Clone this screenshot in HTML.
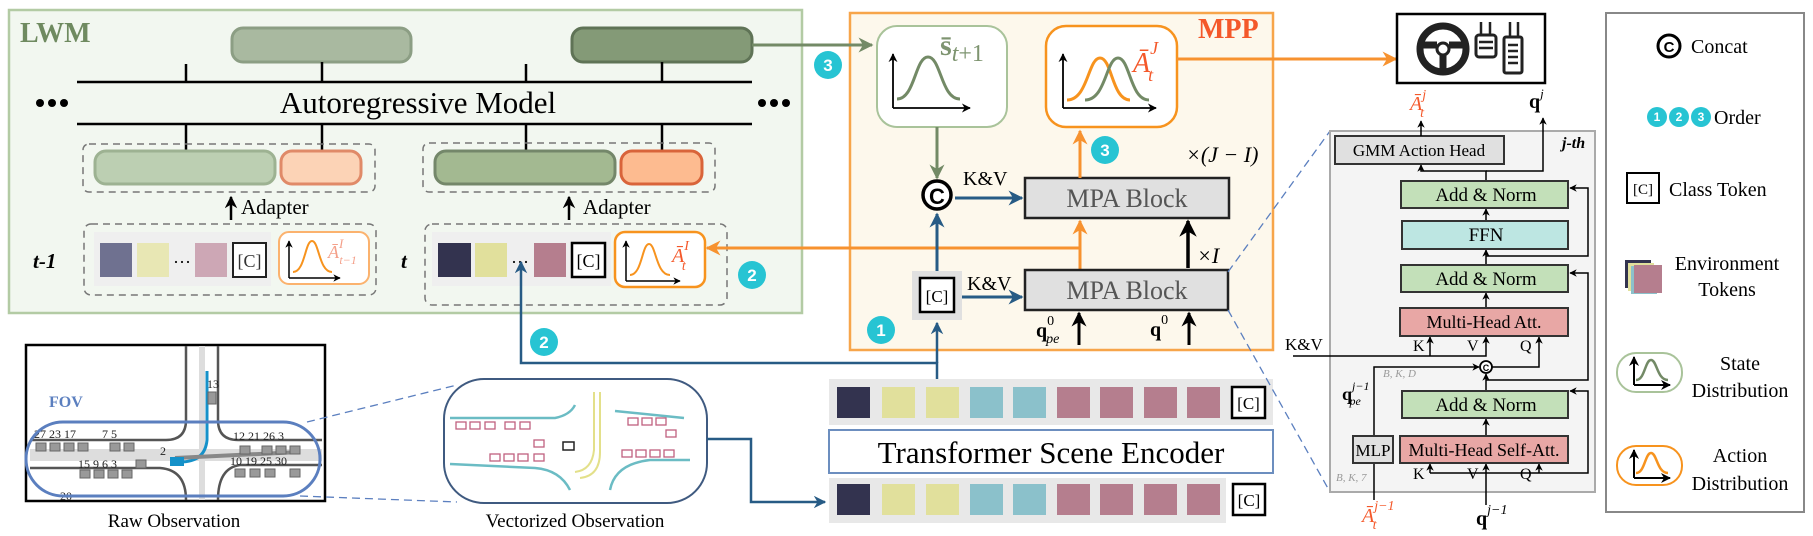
<!DOCTYPE html>
<html><head><meta charset="utf-8"><style>
html,body{margin:0;padding:0;background:#fff;}
svg{display:block;font-family:"Liberation Serif",serif;}
</style></head><body>
<svg width="1813" height="536" viewBox="0 0 1813 536" xmlns="http://www.w3.org/2000/svg">
<defs>
<marker id="ab" viewBox="0 0 10 10" refX="9" refY="5" markerWidth="5" markerHeight="5" orient="auto"><path d="M0,0 L10,5 L0,10 L3,5z" fill="#000"/></marker>
<marker id="ablue" viewBox="0 0 10 10" refX="9" refY="5" markerWidth="5" markerHeight="5" orient="auto"><path d="M0,0 L10,5 L0,10 L3,5z" fill="#275b85"/></marker>
<marker id="aor" viewBox="0 0 10 10" refX="9" refY="5" markerWidth="5" markerHeight="5" orient="auto"><path d="M0,0 L10,5 L0,10 L3,5z" fill="#f7922f"/></marker>
<marker id="agr" viewBox="0 0 10 10" refX="9" refY="5" markerWidth="5" markerHeight="5" orient="auto"><path d="M0,0 L10,5 L0,10 L3,5z" fill="#738a66"/></marker>
</defs>

<!-- LWM -->
<rect x="9" y="10" width="793" height="303" fill="#f2f7f0" stroke="#b3cba4" stroke-width="2.5"/>
<text x="20" y="42" font-size="28" font-weight="bold" fill="#6f8a60">LWM</text>
<rect x="232" y="28" width="179" height="34" rx="11" fill="#a9b9a0" stroke="#8c9e84" stroke-width="3"/>
<rect x="572" y="28" width="180" height="34" rx="11" fill="#849a77" stroke="#5f7356" stroke-width="3"/>
<g stroke="#000" stroke-width="2.5">
<line x1="77" y1="82" x2="752" y2="82"/><line x1="77" y1="124" x2="752" y2="124"/>
<line x1="186" y1="64" x2="186" y2="82"/><line x1="322" y1="62" x2="322" y2="82"/>
<line x1="526" y1="64" x2="526" y2="82"/><line x1="662" y1="62" x2="662" y2="82"/>
<line x1="186" y1="124" x2="186" y2="151"/><line x1="322" y1="124" x2="322" y2="151"/>
<line x1="526" y1="124" x2="526" y2="151"/><line x1="662" y1="124" x2="662" y2="151"/>
</g>
<text x="418" y="113" font-size="31" text-anchor="middle">Autoregressive Model</text>
<g fill="#000"><circle cx="40" cy="103" r="4"/><circle cx="52" cy="103" r="4"/><circle cx="64" cy="103" r="4"/>
<circle cx="762" cy="103" r="4"/><circle cx="774" cy="103" r="4"/><circle cx="786" cy="103" r="4"/></g>
<rect x="83" y="144" width="292" height="48" rx="6" fill="none" stroke="#777" stroke-width="1.5" stroke-dasharray="7,5"/>
<rect x="95" y="151" width="180" height="33" rx="11" fill="#bccfb2" stroke="#9db292" stroke-width="3"/>
<rect x="281" y="151" width="80" height="33" rx="11" fill="#fcd3b6" stroke="#e08a68" stroke-width="3"/>
<rect x="423" y="143" width="292" height="49" rx="6" fill="none" stroke="#777" stroke-width="1.5" stroke-dasharray="7,5"/>
<rect x="435" y="151" width="180" height="33" rx="11" fill="#a3b991" stroke="#74876a" stroke-width="3"/>
<rect x="621" y="151" width="81" height="33" rx="11" fill="#fdbb90" stroke="#d9643a" stroke-width="3"/>
<line x1="231" y1="220" x2="231" y2="197" stroke="#000" stroke-width="2.5" marker-end="url(#ab)"/>
<text x="241" y="214" font-size="21">Adapter</text>
<line x1="569" y1="220" x2="569" y2="197" stroke="#000" stroke-width="2.5" marker-end="url(#ab)"/>
<text x="583" y="214" font-size="21">Adapter</text>

<text x="33" y="268" font-size="21" font-style="italic" font-weight="bold">t-1</text>
<rect x="84" y="224" width="292" height="71" rx="7" fill="none" stroke="#777" stroke-width="1.5" stroke-dasharray="7,5"/>
<rect x="94" y="232" width="177" height="54" fill="#efefef"/>
<rect x="100" y="243" width="32" height="34" fill="#6f7190"/>
<rect x="137" y="243" width="32" height="34" fill="#e8e7b4"/>
<text x="182" y="268" font-size="18" text-anchor="middle">···</text>
<rect x="195" y="243" width="32" height="34" fill="#cda7b5"/>
<rect x="233" y="243" width="33" height="34" fill="#fff" stroke="#222" stroke-width="2"/>
<text x="249.5" y="267" font-size="18" text-anchor="middle" fill="#333">[C]</text>
<rect x="279" y="232" width="90" height="52" rx="10" fill="#fff" stroke="#fbb26e" stroke-width="2"/>
<g stroke="#000" stroke-width="1.5" fill="none"><polyline points="289,278 340,278" marker-end="url(#ab)"/><line x1="289" y1="278" x2="289" y2="241" marker-end="url(#ab)"/></g>
<path d="M293,272 C305,272 305,241 312,241 C319,241 319,272 332,272" fill="none" stroke="#f7931e" stroke-width="2"/>
<text x="328" y="258" font-size="18" font-style="italic" fill="#f4a08a">Ā<tspan dy="-10" font-size="13">I</tspan><tspan dx="-4" dy="16" font-size="12">t−1</tspan></text>

<text x="401" y="268" font-size="21" font-style="italic" font-weight="bold">t</text>
<rect x="425" y="224" width="302" height="81" rx="7" fill="none" stroke="#777" stroke-width="1.5" stroke-dasharray="7,5"/>
<rect x="432" y="232" width="179" height="54" fill="#efefef"/>
<rect x="438" y="243" width="33" height="34" fill="#33334f"/>
<rect x="475" y="243" width="32" height="34" fill="#e1e09c"/>
<text x="520" y="268" font-size="18" text-anchor="middle">···</text>
<rect x="534" y="243" width="32" height="34" fill="#b57e8e"/>
<rect x="572" y="243" width="33" height="34" fill="#fff" stroke="#000" stroke-width="2.5"/>
<text x="588.5" y="267" font-size="18" text-anchor="middle">[C]</text>
<rect x="615" y="232" width="90" height="55" rx="10" fill="#fff" stroke="#f7931e" stroke-width="2.5"/>
<g stroke="#000" stroke-width="1.5" fill="none"><polyline points="626,281 680,281" marker-end="url(#ab)"/><line x1="626" y1="281" x2="626" y2="241" marker-end="url(#ab)"/></g>
<path d="M630,275 C642,275 642,244 649,244 C656,244 656,275 670,275" fill="none" stroke="#f7931e" stroke-width="2"/>
<text x="672" y="262" font-size="20" font-style="italic" fill="#f4582a">Ā<tspan dy="-12" font-size="14">I</tspan><tspan dx="-7" dy="20" font-size="14">t</tspan></text>

<!-- MPP -->
<rect x="850" y="13" width="423" height="337" fill="#fdf8ec" stroke="#f7a54a" stroke-width="2.5"/>
<text x="1198" y="38" font-size="28" font-weight="bold" fill="#f4582a">MPP</text>
<line x1="752" y1="45" x2="872" y2="45" stroke="#738a66" stroke-width="3" marker-end="url(#agr)"/>
<circle cx="828" cy="65" r="14" fill="#27c4d3"/><text x="828" y="71" font-size="17" font-weight="bold" fill="#fff" text-anchor="middle" font-family="Liberation Sans,sans-serif">3</text>
<rect x="877" y="26" width="130" height="101" rx="20" fill="#fff" stroke="#a9c39a" stroke-width="2"/>
<g stroke="#000" stroke-width="1.8" fill="none"><line x1="893" y1="108" x2="970" y2="108" marker-end="url(#ab)"/><line x1="893" y1="108" x2="893" y2="54" marker-end="url(#ab)"/></g>
<path d="M897,99 C915,99 915,57 928,57 C941,57 941,99 960,99" fill="none" stroke="#738a66" stroke-width="3"/>
<text x="940" y="55" font-size="30" fill="#7e9470"><tspan font-weight="bold">s̄</tspan><tspan dy="6" font-size="24" font-style="italic">t</tspan><tspan font-size="24">+1</tspan></text>
<rect x="1046" y="26" width="131" height="101" rx="20" fill="#fff" stroke="#f7931e" stroke-width="2.5"/>
<g stroke="#000" stroke-width="1.8" fill="none"><line x1="1063" y1="108" x2="1156" y2="108" marker-end="url(#ab)"/><line x1="1063" y1="108" x2="1063" y2="54" marker-end="url(#ab)"/></g>
<path d="M1067,100 C1088,100 1088,58 1100,58 C1112,58 1112,100 1130,100" fill="none" stroke="#f7931e" stroke-width="3"/>
<path d="M1085,100 C1106,100 1106,58 1118,58 C1130,58 1130,100 1149,100" fill="none" stroke="#738a66" stroke-width="3"/>
<text x="1133" y="72" font-size="28" font-style="italic" fill="#f4582a">Ā<tspan dy="-18" font-size="18">J</tspan><tspan dx="-10" dy="27" font-size="18">t</tspan></text>
<line x1="1177" y1="59" x2="1396" y2="59" stroke="#f7922f" stroke-width="3" marker-end="url(#aor)"/>

<line x1="937" y1="127" x2="937" y2="178" stroke="#738a66" stroke-width="3" marker-end="url(#agr)"/>
<circle cx="937" cy="195" r="14" fill="#fff" stroke="#000" stroke-width="3.5"/>
<text x="937" y="204" font-size="22" font-weight="bold" text-anchor="middle" font-family="Liberation Sans,sans-serif">C</text>
<text x="963" y="185" font-size="20">K&amp;V</text>
<line x1="955" y1="198" x2="1022" y2="198" stroke="#275b85" stroke-width="3" marker-end="url(#ablue)"/>
<rect x="1025" y="178" width="204" height="40" fill="#e0e0e0" stroke="#222" stroke-width="2.5"/>
<text x="1127" y="207" font-size="26" text-anchor="middle" fill="#555">MPA Block</text>
<text x="1186" y="162" font-size="22" font-style="italic">×(J − I)</text>
<line x1="1080" y1="178" x2="1080" y2="131" stroke="#f7922f" stroke-width="3" marker-end="url(#aor)"/>
<circle cx="1105" cy="150" r="14" fill="#27c4d3"/><text x="1105" y="156" font-size="17" font-weight="bold" fill="#fff" text-anchor="middle" font-family="Liberation Sans,sans-serif">3</text>
<line x1="1080" y1="270" x2="1080" y2="221" stroke="#f7922f" stroke-width="3" marker-end="url(#aor)"/>
<line x1="1080" y1="248" x2="707" y2="248" stroke="#f7922f" stroke-width="3" marker-end="url(#aor)"/>
<circle cx="752" cy="275" r="14" fill="#27c4d3"/><text x="752" y="281" font-size="17" font-weight="bold" fill="#fff" text-anchor="middle" font-family="Liberation Sans,sans-serif">2</text>
<rect x="1025" y="270" width="203" height="40" fill="#e0e0e0" stroke="#222" stroke-width="2.5"/>
<text x="1127" y="299" font-size="26" text-anchor="middle" fill="#555">MPA Block</text>
<line x1="1188" y1="268" x2="1188" y2="221" stroke="#000" stroke-width="3.5" marker-end="url(#ab)"/>
<text x="1197" y="263" font-size="22" font-style="italic">×I</text>
<rect x="912" y="271" width="50" height="49" fill="#e0e0e0"/>
<rect x="920" y="278" width="34" height="34" fill="#fff" stroke="#000" stroke-width="2.5"/>
<text x="937" y="302" font-size="17" text-anchor="middle">[C]</text>
<line x1="937" y1="271" x2="937" y2="214" stroke="#275b85" stroke-width="3" marker-end="url(#ablue)"/>
<text x="967" y="290" font-size="20">K&amp;V</text>
<line x1="962" y1="297" x2="1022" y2="297" stroke="#275b85" stroke-width="3" marker-end="url(#ablue)"/>
<text x="1036" y="337" font-size="20" font-weight="bold">q<tspan dy="-12" font-size="14" font-weight="normal">0</tspan><tspan dx="-8" dy="18" font-size="14" font-style="italic" font-weight="normal">pe</tspan></text>
<line x1="1079" y1="345" x2="1079" y2="313" stroke="#000" stroke-width="3" marker-end="url(#ab)"/>
<text x="1150" y="336" font-size="20" font-weight="bold">q<tspan dy="-12" font-size="14" font-weight="normal">0</tspan></text>
<line x1="1189" y1="345" x2="1189" y2="313" stroke="#000" stroke-width="3" marker-end="url(#ab)"/>
<circle cx="881" cy="330" r="14" fill="#27c4d3"/><text x="881" y="336" font-size="17" font-weight="bold" fill="#fff" text-anchor="middle" font-family="Liberation Sans,sans-serif">1</text>

<!-- blue connectors -->
<polyline points="937,379 937,363 521,363 521,262" fill="none" stroke="#275b85" stroke-width="2.5" marker-end="url(#ablue)"/>
<line x1="937" y1="363" x2="937" y2="323" stroke="#275b85" stroke-width="2.5" marker-end="url(#ablue)"/>
<circle cx="544" cy="342" r="14" fill="#27c4d3"/><text x="544" y="348" font-size="17" font-weight="bold" fill="#fff" text-anchor="middle" font-family="Liberation Sans,sans-serif">2</text>

<!-- raw observation -->
<rect x="26" y="345" width="299" height="156" fill="#fff" stroke="#000" stroke-width="2.5"/>
<g fill="none" stroke="#555" stroke-width="2.5">
<path d="M186,346 L186,420 Q186,440 166,440 L30,440"/><path d="M218,346 L218,420 Q218,440 238,440 L322,440"/>
<path d="M30,468 L160,468 Q186,470 186,500"/><path d="M322,465 L240,465 Q218,468 218,500"/>
</g>
<g fill="none" stroke="#ddd" stroke-width="6"><line x1="202" y1="346" x2="202" y2="500"/><line x1="30" y1="452" x2="322" y2="452"/><line x1="30" y1="458" x2="322" y2="458"/></g>
<path d="M207,371 L207,440 Q205,462 180,462" fill="none" stroke="#1591c9" stroke-width="3"/>
<path d="M175,458 L300,452" stroke="#888" stroke-width="4"/>
<rect x="170" y="457" width="14" height="9" fill="#1591c9"/>
<g fill="#999" stroke="#666" stroke-width="1"><rect x="36" y="443" width="10" height="8"/><rect x="50" y="443" width="10" height="8"/><rect x="64" y="443" width="10" height="8"/><rect x="78" y="443" width="10" height="8"/><rect x="110" y="443" width="10" height="8"/><rect x="124" y="443" width="10" height="8"/>
<rect x="240" y="446" width="10" height="8"/><rect x="262" y="446" width="10" height="8"/><rect x="276" y="446" width="10" height="8"/><rect x="290" y="446" width="10" height="8"/>
<rect x="80" y="470" width="10" height="8"/><rect x="94" y="470" width="10" height="8"/><rect x="108" y="470" width="10" height="8"/><rect x="122" y="470" width="10" height="8"/><rect x="136" y="460" width="10" height="8"/>
<rect x="235" y="469" width="10" height="8"/><rect x="250" y="469" width="10" height="8"/><rect x="265" y="469" width="10" height="8"/><rect x="290" y="469" width="10" height="8"/><rect x="208" y="392" width="8" height="12"/></g>
<g font-size="12" fill="#222"><text x="34" y="438">27 23 17</text><text x="102" y="438">7 5</text><text x="233" y="440">12 21 26 3</text><text x="78" y="468">15 9 6 3</text><text x="160" y="455">2</text><text x="230" y="465">10 19 25 30</text><text x="207" y="388">13</text><text x="60" y="500">20</text></g>
<text x="49" y="407" font-size="16" font-weight="bold" fill="#5b7fbf">FOV</text>
<rect x="26" y="422" width="294" height="74" rx="37" fill="none" stroke="#5b7fbf" stroke-width="3"/>
<text x="174" y="527" font-size="19" text-anchor="middle">Raw Observation</text>
<g stroke="#5b7fbf" stroke-width="1.3" stroke-dasharray="8,5"><line x1="307" y1="422" x2="457" y2="385"/><line x1="300" y1="496" x2="457" y2="502"/></g>

<!-- vectorized -->
<rect x="444" y="379" width="263" height="124" rx="40" fill="#fff" stroke="#3f5a80" stroke-width="2"/>
<g fill="none" stroke="#6bbcc4" stroke-width="2.5">
<path d="M450,418 L555,418 Q570,415 575,405"/><path d="M615,411 L684,418"/><path d="M450,464 L535,468 Q560,470 570,490"/><path d="M610,490 Q615,464 650,460 L690,460"/></g>
<path d="M594,392 L594,450 Q592,470 575,472 M600,392 L600,452 Q600,476 580,478" fill="none" stroke="#e3e08a" stroke-width="2"/>
<g fill="none" stroke="#c0607f" stroke-width="1.3"><rect x="456" y="422" width="10" height="7"/><rect x="470" y="422" width="10" height="7"/><rect x="485" y="422" width="10" height="7"/><rect x="505" y="422" width="10" height="7"/><rect x="520" y="422" width="10" height="7"/>
<rect x="534" y="440" width="10" height="7"/><rect x="490" y="454" width="10" height="7"/><rect x="504" y="454" width="10" height="7"/><rect x="518" y="454" width="10" height="7"/><rect x="534" y="454" width="10" height="7"/>
<rect x="628" y="418" width="10" height="7"/><rect x="642" y="418" width="10" height="7"/><rect x="656" y="418" width="10" height="7"/><rect x="666" y="430" width="10" height="7"/><rect x="622" y="450" width="10" height="7"/><rect x="636" y="450" width="10" height="7"/><rect x="650" y="450" width="10" height="7"/><rect x="664" y="450" width="10" height="7"/></g>
<rect x="563" y="442" width="11" height="8" fill="none" stroke="#222" stroke-width="1.5"/>
<text x="575" y="527" font-size="19" text-anchor="middle">Vectorized Observation</text>
<polyline points="707,439 751,439 751,502 825,502" fill="none" stroke="#275b85" stroke-width="2.5" marker-end="url(#ablue)"/>

<!-- token rows & encoder -->
<rect x="829" y="379" width="444" height="46" fill="#e8e8e8"/>
<g><rect x="837" y="387" width="33" height="31" fill="#33334f"/><rect x="882" y="387" width="33" height="31" fill="#e1e09c"/><rect x="926" y="387" width="33" height="31" fill="#e1e09c"/><rect x="970" y="387" width="33" height="31" fill="#8bc1cb"/><rect x="1013" y="387" width="33" height="31" fill="#8bc1cb"/><rect x="1057" y="387" width="33" height="31" fill="#b57e8e"/><rect x="1100" y="387" width="33" height="31" fill="#b57e8e"/><rect x="1144" y="387" width="33" height="31" fill="#b57e8e"/><rect x="1187" y="387" width="33" height="31" fill="#b57e8e"/></g>
<rect x="1232" y="387" width="33" height="31" fill="#fff" stroke="#000" stroke-width="2.5"/><text x="1248.5" y="409" font-size="17" text-anchor="middle">[C]</text>
<rect x="829" y="430" width="444" height="43" fill="#fff" stroke="#6c8ebf" stroke-width="2"/>
<text x="1051" y="463" font-size="31" text-anchor="middle">Transformer Scene Encoder</text>
<rect x="829" y="478" width="397" height="45" fill="#e8e8e8"/>
<g><rect x="837" y="484" width="33" height="31" fill="#33334f"/><rect x="882" y="484" width="33" height="31" fill="#e1e09c"/><rect x="926" y="484" width="33" height="31" fill="#e1e09c"/><rect x="970" y="484" width="33" height="31" fill="#8bc1cb"/><rect x="1013" y="484" width="33" height="31" fill="#8bc1cb"/><rect x="1057" y="484" width="33" height="31" fill="#b57e8e"/><rect x="1100" y="484" width="33" height="31" fill="#b57e8e"/><rect x="1144" y="484" width="33" height="31" fill="#b57e8e"/><rect x="1187" y="484" width="33" height="31" fill="#b57e8e"/></g>
<rect x="1233" y="484" width="32" height="31" fill="#fff" stroke="#000" stroke-width="2.5"/><text x="1249" y="506" font-size="17" text-anchor="middle">[C]</text>

<!-- icon -->
<rect x="1397" y="14" width="148" height="69" fill="#fff" stroke="#000" stroke-width="2.5"/>
<circle cx="1443" cy="49" r="23" fill="none" stroke="#222" stroke-width="7"/>
<circle cx="1443" cy="49" r="6" fill="#fff" stroke="#222" stroke-width="3"/>
<path d="M1421,45 L1437,45 M1465,45 L1449,45 M1443,55 L1443,71" stroke="#222" stroke-width="7"/>
<rect x="1476" y="35" width="20" height="22" rx="3" fill="#fff" stroke="#222" stroke-width="3"/>
<path d="M1481,22 L1481,35 M1490,22 L1490,35 M1479,42 L1493,42 M1479,48 L1493,48" stroke="#222" stroke-width="2.5"/>
<rect x="1504" y="37" width="18" height="36" rx="2" fill="#fff" stroke="#222" stroke-width="3"/>
<path d="M1510,22 L1510,37 M1518,22 L1518,37 M1508,45 L1518,45 M1508,51 L1518,51 M1508,57 L1518,57 M1508,63 L1518,63" stroke="#222" stroke-width="2.5"/>

<!-- j-th -->
<g stroke="#5b7fbf" stroke-width="1.3" stroke-dasharray="8,5"><line x1="1228" y1="272" x2="1330" y2="131"/><line x1="1228" y1="310" x2="1330" y2="492"/></g>
<rect x="1330" y="131" width="265" height="361" fill="#f4f4f4" stroke="#aaa" stroke-width="2"/>
<text x="1562" y="148" font-size="16" font-style="italic" font-weight="bold">j-th</text>
<rect x="1335" y="136" width="169" height="28" fill="#e0e0e0" stroke="#333" stroke-width="2"/>
<text x="1419" y="156" font-size="17" text-anchor="middle">GMM Action Head</text>
<text x="1410" y="110" font-size="20" font-style="italic" fill="#f4582a">Ā<tspan dy="-11" font-size="14">j</tspan><tspan dx="-6" dy="18" font-size="14">t</tspan></text>
<text x="1529" y="108" font-size="20" font-weight="bold">q<tspan dy="-10" font-size="13" font-weight="normal" font-style="italic">j</tspan></text>
<g stroke="#000" stroke-width="1.5" fill="none">
<line x1="1421" y1="136" x2="1421" y2="121" marker-end="url(#ab)"/>
<polyline points="1486,181 1486,171 1421,171 1421,165" marker-end="url(#ab)"/>
<polyline points="1486,171 1543,171 1543,118" marker-end="url(#ab)"/>
<line x1="1486" y1="221" x2="1486" y2="209" marker-end="url(#ab)"/>
<line x1="1486" y1="265" x2="1486" y2="250" marker-end="url(#ab)"/>
<polyline points="1486,256 1588,256 1588,188 1570,188" marker-end="url(#ab)"/>
<line x1="1486" y1="308" x2="1486" y2="293" marker-end="url(#ab)"/>
<polyline points="1486,380 1588,380 1588,273 1570,273" marker-end="url(#ab)"/>
<polyline points="1293,356 1486,356 1486,337" marker-end="url(#ab)"/>
<line x1="1430" y1="356" x2="1430" y2="337" marker-end="url(#ab)"/>
<polyline points="1374,436 1374,367 1479,367" marker-end="url(#ab)"/>
<polyline points="1492,367 1539,367 1539,337" marker-end="url(#ab)"/>
<line x1="1486" y1="391" x2="1486" y2="374" marker-end="url(#ab)"/>
<line x1="1486" y1="436" x2="1486" y2="419" marker-end="url(#ab)"/>
<polyline points="1430,473 1588,473 1588,391 1570,391" marker-end="url(#ab)"/>
<line x1="1430" y1="473" x2="1430" y2="464" marker-end="url(#ab)"/>
<line x1="1539" y1="473" x2="1539" y2="464" marker-end="url(#ab)"/>
<line x1="1486" y1="505" x2="1486" y2="464" marker-end="url(#ab)"/>
<line x1="1374" y1="500" x2="1374" y2="463"/>
</g>
<circle cx="1486" cy="367" r="6" fill="#fff" stroke="#000" stroke-width="1.8"/><text x="1486" y="371" font-size="9" font-weight="bold" text-anchor="middle" font-family="Liberation Sans,sans-serif">C</text>
<rect x="1401" y="181" width="167" height="27" fill="#c3e0b9" stroke="#333" stroke-width="2"/><text x="1486" y="201" font-size="19" text-anchor="middle">Add &amp; Norm</text>
<rect x="1402" y="221" width="166" height="28" fill="#bde6e2" stroke="#333" stroke-width="2"/><text x="1486" y="241" font-size="19" text-anchor="middle">FFN</text>
<rect x="1401" y="265" width="167" height="27" fill="#c3e0b9" stroke="#333" stroke-width="2"/><text x="1486" y="285" font-size="19" text-anchor="middle">Add &amp; Norm</text>
<rect x="1400" y="308" width="168" height="28" fill="#e8a7a5" stroke="#333" stroke-width="2"/><text x="1484" y="328" font-size="18" text-anchor="middle">Multi-Head Att.</text>
<rect x="1402" y="391" width="166" height="27" fill="#c3e0b9" stroke="#333" stroke-width="2"/><text x="1486" y="411" font-size="19" text-anchor="middle">Add &amp; Norm</text>
<rect x="1400" y="436" width="168" height="27" fill="#e8a7a5" stroke="#333" stroke-width="2"/><text x="1484" y="456" font-size="18" text-anchor="middle">Multi-Head Self-Att.</text>
<rect x="1353" y="436" width="40" height="27" fill="#e0e0e0" stroke="#333" stroke-width="2"/><text x="1373" y="456" font-size="17" text-anchor="middle">MLP</text>
<g font-size="16"><text x="1413" y="351">K</text><text x="1467" y="351">V</text><text x="1520" y="351">Q</text>
<text x="1413" y="479">K</text><text x="1467" y="479">V</text><text x="1520" y="479">Q</text>
<text x="1285" y="350" font-size="17">K&amp;V</text></g>
<text x="1383" y="377" font-size="11" font-style="italic" fill="#999">B, K, D</text>
<text x="1336" y="481" font-size="11" font-style="italic" fill="#999">B, K, 7</text>
<text x="1342" y="400" font-size="18" font-weight="bold">q<tspan dy="-10" font-size="12" font-weight="normal" font-style="italic">j−1</tspan><tspan dx="-20" dy="15" font-size="12" font-weight="normal" font-style="italic">pe</tspan></text>
<text x="1362" y="522" font-size="20" font-style="italic" fill="#f4582a">Ā<tspan dy="-12" font-size="14">j−1</tspan><tspan dx="-22" dy="19" font-size="14">t</tspan></text>
<text x="1476" y="525" font-size="20" font-weight="bold">q<tspan dy="-11" font-size="14" font-weight="normal" font-style="italic">j−1</tspan></text>

<!-- legend -->
<rect x="1606" y="13" width="198" height="499" fill="#fff" stroke="#888" stroke-width="2"/>
<circle cx="1669" cy="46" r="11" fill="#fff" stroke="#000" stroke-width="3"/><text x="1669" y="52" font-size="15" font-weight="bold" text-anchor="middle" font-family="Liberation Sans,sans-serif">C</text>
<text x="1691" y="53" font-size="20">Concat</text>
<g font-family="Liberation Sans,sans-serif" font-size="12" font-weight="bold" fill="#fff" text-anchor="middle">
<circle cx="1657" cy="117" r="10" fill="#27c4d3"/><text x="1657" y="121">1</text>
<circle cx="1679" cy="117" r="10" fill="#27c4d3"/><text x="1679" y="121">2</text>
<circle cx="1701" cy="117" r="10" fill="#27c4d3"/><text x="1701" y="121">3</text></g>
<text x="1714" y="124" font-size="20">Order</text>
<rect x="1627" y="173" width="32" height="30" fill="#fff" stroke="#000" stroke-width="2"/><text x="1643" y="194" font-size="15" text-anchor="middle">[C]</text>
<text x="1669" y="196" font-size="20">Class Token</text>
<rect x="1625" y="260" width="26" height="28" fill="#33334f"/><rect x="1628" y="263" width="26" height="28" fill="#e1e09c"/><rect x="1631" y="266" width="26" height="28" fill="#8bc1cb"/><rect x="1634" y="265" width="28" height="28" fill="#b57e8e"/>
<text x="1727" y="270" font-size="20" text-anchor="middle">Environment</text>
<text x="1727" y="296" font-size="20" text-anchor="middle">Tokens</text>
<rect x="1617" y="353" width="65" height="39" rx="19" fill="#fff" stroke="#a9c39a" stroke-width="2"/>
<g stroke="#000" stroke-width="2" fill="none"><line x1="1634" y1="385" x2="1670" y2="385" marker-end="url(#ab)"/><line x1="1634" y1="385" x2="1634" y2="357" marker-end="url(#ab)"/></g>
<path d="M1636,380 C1645,380 1645,360 1651,360 C1657,360 1657,380 1668,380" fill="none" stroke="#738a66" stroke-width="2.5"/>
<text x="1740" y="370" font-size="20" text-anchor="middle">State</text>
<text x="1740" y="397" font-size="20" text-anchor="middle">Distribution</text>
<rect x="1617" y="446" width="65" height="39" rx="19" fill="#fff" stroke="#f7931e" stroke-width="2"/>
<g stroke="#000" stroke-width="2" fill="none"><line x1="1634" y1="478" x2="1670" y2="478" marker-end="url(#ab)"/><line x1="1634" y1="478" x2="1634" y2="450" marker-end="url(#ab)"/></g>
<path d="M1636,473 C1645,473 1645,453 1651,453 C1657,453 1657,473 1668,473" fill="none" stroke="#f7931e" stroke-width="2.5"/>
<text x="1740" y="462" font-size="20" text-anchor="middle">Action</text>
<text x="1740" y="490" font-size="20" text-anchor="middle">Distribution</text>
</svg>
</body></html>
